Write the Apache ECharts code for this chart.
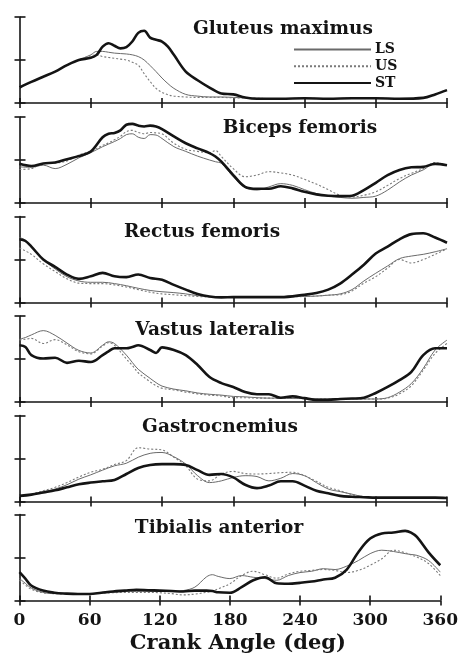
<!DOCTYPE html>
<html><head><meta charset="utf-8">
<script src="https://cdn.jsdelivr.net/npm/echarts@6/dist/echarts.min.js"></script>
<style>html,body{margin:0;padding:0;background:#fff}#c{width:461px;height:657px}</style>
</head><body><div id="c"></div>
<script>
// ---------- DATA ----------
const muscles = ['Gluteus maximus','Biceps femoris','Rectus femoris','Vastus lateralis','Gastrocnemius','Tibialis anterior'];
const groups = ['LS','US','ST'];
const xTicks = [0,60,120,180,240,300,360];
const xName = 'Crank Angle (deg)';

// Gluteus maximus
const gmAngle = [0,10,20,30,40,50,60,65,70,75,80,85,90,95,100,105,110,115,120,125,130,140,150,160,170,180,190,200,220,240,260,280,300,320,340,350,360];
const gmST = [0.36,0.49,0.61,0.73,0.88,1.0,1.05,1.12,1.31,1.39,1.33,1.27,1.30,1.43,1.63,1.68,1.52,1.47,1.43,1.31,1.12,0.73,0.53,0.36,0.22,0.20,0.13,0.10,0.10,0.11,0.10,0.11,0.11,0.10,0.12,0.20,0.30];
const gmLS = [0.36,0.49,0.61,0.73,0.88,1.0,1.12,1.20,1.20,1.18,1.16,1.15,1.14,1.12,1.08,1.00,0.87,0.73,0.58,0.45,0.34,0.20,0.16,0.14,0.14,0.13,0.12,0.11,0.10,0.11,0.10,0.11,0.11,0.10,0.12,0.20,0.30];
const gmUS = [0.36,0.49,0.61,0.73,0.88,1.0,1.10,1.12,1.08,1.06,1.04,1.02,1.00,0.95,0.88,0.68,0.50,0.34,0.25,0.19,0.16,0.14,0.13,0.13,0.13,0.12,0.12,0.11,0.10,0.11,0.10,0.11,0.11,0.10,0.12,0.20,0.30];

// Biceps femoris
const bfAngle = [0,10,20,30,40,50,60,70,75,80,85,90,95,100,105,110,115,120,130,140,150,160,165,170,180,190,200,210,220,230,240,250,260,270,280,290,300,310,320,330,340,350,360];
const bfST = [0.91,0.86,0.92,0.94,1.02,1.09,1.20,1.53,1.61,1.63,1.69,1.82,1.84,1.80,1.78,1.80,1.78,1.72,1.55,1.39,1.27,1.16,1.08,0.96,0.65,0.375,0.33,0.33,0.39,0.34,0.26,0.20,0.17,0.16,0.17,0.30,0.47,0.65,0.77,0.83,0.84,0.91,0.88];
const bfLS = [0.84,0.83,0.88,0.80,0.90,1.05,1.17,1.31,1.37,1.43,1.50,1.59,1.61,1.53,1.50,1.59,1.58,1.50,1.31,1.20,1.09,1.00,0.96,0.92,0.61,0.36,0.30,0.375,0.45,0.41,0.31,0.22,0.16,0.13,0.11,0.13,0.16,0.30,0.49,0.65,0.77,0.92,0.88];
const bfUS = [0.78,0.80,0.92,0.93,0.98,1.12,1.20,1.34,1.40,1.47,1.55,1.66,1.69,1.64,1.61,1.64,1.63,1.61,1.39,1.25,1.20,1.17,1.22,1.08,0.80,0.61,0.65,0.73,0.70,0.65,0.55,0.44,0.31,0.18,0.14,0.18,0.26,0.41,0.57,0.69,0.80,0.94,0.88];

// Rectus femoris
const rfAngle = [0,5,10,20,30,40,50,60,70,80,90,100,110,120,130,140,150,160,170,180,200,220,240,250,260,270,280,290,300,310,320,330,340,350,360];
const rfST = [1.47,1.43,1.30,1.00,0.83,0.65,0.55,0.61,0.69,0.61,0.59,0.65,0.57,0.53,0.41,0.30,0.20,0.14,0.12,0.125,0.125,0.125,0.18,0.22,0.30,0.44,0.65,0.88,1.14,1.30,1.47,1.59,1.61,1.51,1.39];
const rfLS = [1.51,1.45,1.30,1.00,0.78,0.60,0.50,0.47,0.47,0.44,0.39,0.33,0.28,0.25,0.23,0.20,0.16,0.14,0.14,0.14,0.14,0.14,0.14,0.15,0.17,0.20,0.30,0.50,0.68,0.85,1.02,1.08,1.12,1.18,1.25];
const rfUS = [1.27,1.20,1.12,0.90,0.72,0.55,0.45,0.44,0.44,0.41,0.36,0.30,0.24,0.20,0.18,0.16,0.14,0.13,0.13,0.13,0.13,0.13,0.14,0.15,0.17,0.18,0.27,0.45,0.60,0.80,1.00,0.92,1.00,1.12,1.25];

// Vastus lateralis
const vlAngle = [0,5,10,20,30,40,50,60,70,75,80,90,95,100,110,115,120,130,140,150,160,170,180,190,200,210,220,230,240,250,260,270,280,290,300,310,320,330,340,350,360];
const vlST = [1.32,1.28,1.09,1.01,1.03,0.91,0.96,0.93,1.09,1.18,1.25,1.25,1.28,1.32,1.21,1.14,1.27,1.21,1.09,0.86,0.58,0.44,0.35,0.23,0.18,0.18,0.10,0.13,0.09,0.05,0.05,0.07,0.08,0.10,0.21,0.35,0.51,0.70,1.09,1.25,1.25];
const vlLS = [1.46,1.50,1.56,1.66,1.55,1.37,1.20,1.14,1.32,1.40,1.36,1.09,0.92,0.76,0.55,0.45,0.37,0.30,0.26,0.21,0.18,0.16,0.13,0.12,0.10,0.09,0.09,0.08,0.08,0.07,0.07,0.07,0.07,0.07,0.07,0.10,0.23,0.43,0.78,1.21,1.44];
const vlUS = [1.44,1.46,1.48,1.36,1.45,1.33,1.17,1.12,1.30,1.38,1.32,1.00,0.85,0.68,0.47,0.38,0.32,0.28,0.23,0.19,0.16,0.14,0.10,0.10,0.09,0.09,0.08,0.08,0.08,0.07,0.07,0.07,0.07,0.07,0.07,0.09,0.19,0.38,0.74,1.13,1.36];

// Gastrocnemius
const gaAngle = [0,10,20,30,40,50,60,70,80,90,100,110,120,130,140,150,160,170,180,190,200,210,220,230,240,250,260,270,280,290,300,310,320,330,340,350,360];
const gaST = [0.13,0.16,0.21,0.26,0.33,0.40,0.44,0.47,0.50,0.64,0.78,0.85,0.87,0.87,0.85,0.73,0.62,0.64,0.56,0.39,0.31,0.37,0.47,0.47,0.37,0.25,0.19,0.13,0.11,0.10,0.09,0.09,0.09,0.09,0.09,0.09,0.08];
const gaLS = [0.13,0.17,0.23,0.29,0.39,0.52,0.62,0.73,0.83,0.89,1.03,1.12,1.14,1.04,0.87,0.60,0.44,0.48,0.56,0.60,0.58,0.48,0.54,0.65,0.60,0.44,0.29,0.23,0.17,0.11,0.09,0.09,0.09,0.09,0.09,0.09,0.08];
const gaUS = [0.13,0.17,0.25,0.33,0.44,0.57,0.68,0.75,0.86,0.95,1.25,1.22,1.20,1.03,0.83,0.52,0.48,0.64,0.70,0.65,0.64,0.65,0.67,0.68,0.60,0.47,0.33,0.25,0.16,0.11,0.09,0.09,0.09,0.09,0.09,0.09,0.08];

// Tibialis anterior
const taAngle = [0,5,10,20,30,40,50,60,70,80,90,100,110,120,130,140,150,160,165,170,180,190,200,210,220,230,240,250,260,270,280,290,300,310,320,330,335,340,350,360];
const taST = [0.66,0.51,0.35,0.23,0.18,0.16,0.15,0.15,0.18,0.21,0.23,0.25,0.24,0.23,0.22,0.21,0.23,0.23,0.22,0.19,0.18,0.31,0.47,0.54,0.40,0.39,0.41,0.44,0.49,0.53,0.72,1.13,1.44,1.56,1.58,1.62,1.58,1.48,1.12,0.82];
const taLS = [0.51,0.40,0.29,0.19,0.16,0.16,0.16,0.16,0.17,0.19,0.21,0.21,0.21,0.21,0.21,0.23,0.31,0.55,0.60,0.56,0.51,0.58,0.54,0.51,0.47,0.58,0.65,0.68,0.74,0.72,0.80,0.93,1.09,1.17,1.14,1.09,1.07,1.05,0.93,0.66];
const taUS = [0.47,0.36,0.26,0.18,0.16,0.15,0.15,0.16,0.17,0.18,0.19,0.19,0.19,0.18,0.16,0.13,0.15,0.19,0.22,0.27,0.39,0.58,0.68,0.60,0.52,0.62,0.68,0.70,0.72,0.70,0.65,0.70,0.82,0.97,1.17,1.11,1.06,1.01,0.86,0.58];

// ---------- BUILD ----------
const panels = [
  {angle: gmAngle, LS: gmLS, US: gmUS, ST: gmST},
  {angle: bfAngle, LS: bfLS, US: bfUS, ST: bfST},
  {angle: rfAngle, LS: rfLS, US: rfUS, ST: rfST},
  {angle: vlAngle, LS: vlLS, US: vlUS, ST: vlST},
  {angle: gaAngle, LS: gaLS, US: gaUS, ST: gaST},
  {angle: taAngle, LS: taLS, US: taUS, ST: taST}
];

const FONT = 'DejaVu Serif';
const INK = '#141414';
const gridTops = [17, 117, 216.5, 316, 415.5, 514.5];
const gridH = 86;
const titlePos = [[283,29],[300,128],[202,232],[215,330],[220,427],[219,528]];
const lineStyles = {
  LS: {color: '#6a6a6a', width: 1, type: 'solid'},
  US: {color: '#7a7a7a', width: 1.1, type: [2, 2]},
  ST: {color: INK, width: 2.6, type: 'solid'}
};

const grids = [], xAxes = [], yAxes = [], series = [], graphics = [];
panels.forEach((p, i) => {
  grids.push({left: 19.5, width: 427.5, top: gridTops[i], height: gridH});
  const last = i === panels.length - 1;
  const axLine = {show: true, onZero: false, lineStyle: {color: INK, width: 1.6}};
  xAxes.push({
    type: 'value', gridIndex: i, min: xTicks[0], max: xTicks[xTicks.length-1],
    interval: xTicks[1]-xTicks[0], position: 'bottom',
    axisLine: axLine, splitLine: {show: false},
    axisTick: {show: true, inside: false, length: 5, lineStyle: {color: INK, width: 1.6}},
    axisLabel: {show: last, margin: 12, fontFamily: FONT, fontWeight: 'bold', fontSize: 17, color: INK},
    name: last ? xName : '', nameLocation: 'middle', nameGap: 33,
    nameTextStyle: {fontFamily: FONT, fontWeight: 'bold', fontSize: 21, color: INK, padding: [0,0,0,16]}
  });
  xAxes.push({
    type: 'value', gridIndex: i, min: xTicks[0], max: xTicks[xTicks.length-1],
    interval: xTicks[1]-xTicks[0], position: 'bottom',
    axisLine: {show: false, onZero: false}, splitLine: {show: false}, axisLabel: {show: false},
    axisTick: {show: true, inside: true, length: 5, lineStyle: {color: INK, width: 1.6}}
  });
  yAxes.push({
    type: 'value', gridIndex: i, min: 0, max: 2, interval: 1, position: 'left',
    axisLine: axLine, splitLine: {show: false}, axisLabel: {show: false},
    axisTick: {show: true, inside: false, length: 5, lineStyle: {color: INK, width: 1.6}}
  });
  yAxes.push({
    type: 'value', gridIndex: i, min: 0, max: 2, interval: 1, position: 'left',
    axisLine: {show: false, onZero: false}, splitLine: {show: false}, axisLabel: {show: false},
    axisTick: {show: true, inside: true, length: 6, lineStyle: {color: INK, width: 1.6}}
  });
  groups.forEach(g => {
    series.push({
      name: g, type: 'line', xAxisIndex: 2*i, yAxisIndex: 2*i,
      data: p.angle.map((a, k) => [a, p[g][k]]),
      symbol: 'none', showSymbol: false, smooth: 0.35,
      lineStyle: lineStyles[g], z: g === 'ST' ? 3 : 2, animation: false
    });
  });
  graphics.push({
    type: 'text', x: titlePos[i][0], y: titlePos[i][1],
    style: {text: muscles[i], fontFamily: FONT, fontWeight: 'bold', fontSize: 18.5, fill: INK,
            align: 'center', verticalAlign: 'middle'}
  });
});

const chart = echarts.init(document.getElementById('c'), null, {renderer: 'canvas'});
chart.setOption({
  backgroundColor: '#fff',
  animation: false,
  grid: grids, xAxis: xAxes, yAxis: yAxes, series: series,
  graphic: graphics,
  legend: {
    data: groups, orient: 'vertical', left: 293, top: 42.5, padding: 0,
    itemWidth: 77, itemHeight: 12, itemGap: 2.7, itemStyle: {opacity: 0},
    textStyle: {fontFamily: FONT, fontWeight: 'bold', fontSize: 14, color: INK, padding: [0,0,0,-1]},
    selectedMode: false
  }
});
</script></body></html>
